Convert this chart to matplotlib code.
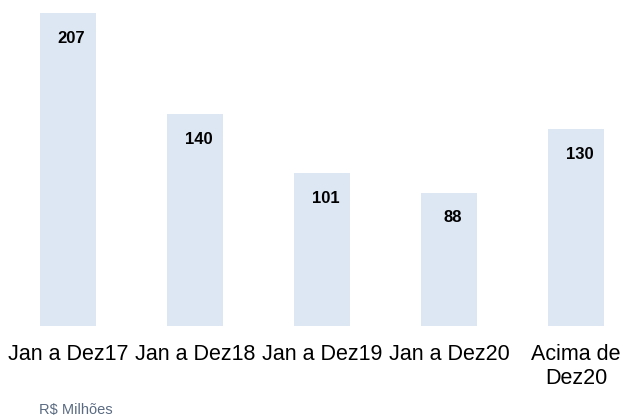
import matplotlib
matplotlib.use("Agg")
import matplotlib.pyplot as plt

# Dados
categorias = ["Jan a Dez17", "Jan a Dez18", "Jan a Dez19", "Jan a Dez20", "Acima de\nDez20"]
valores = [207, 140, 101, 88, 130]

plt.rcParams['font.family'] = ['Liberation Sans', 'DejaVu Sans']

fig = plt.figure(figsize=(6.27, 4.19), dpi=100)
# eixo ocupa a largura toda; base das barras em y=326 px
ax = fig.add_axes([0, 93 / 419, 1, 326 / 419])

x = list(range(len(categorias)))
ax.bar(x, valores, width=0.44, color="#DDE7F3", zorder=2)

for xi, v in zip(x, valores):
    ax.annotate(f"{v}", xy=(xi, v), xytext=(2.5, -18), textcoords="offset points",
                ha="center", va="center", fontsize=12, fontweight="bold", color="#000000")

ax.set_xlim(-68 / 127, (627 - 68) / 127)
ax.set_ylim(0, 326 / 1.512)
ax.set_xticks(x)
ax.set_xticklabels(categorias, fontsize=15.5, linespacing=1.2)
ax.tick_params(axis="x", length=0, pad=13)
ax.set_yticks([])
for s in ax.spines.values():
    s.set_visible(False)

fig.text(39 / 627, (419 - 414) / 419, "R$ Milhões", fontsize=10.5, color="#5A6B82",
         ha="left", va="baseline")

fig.savefig("out.png", dpi=100)
plt.close(fig)
